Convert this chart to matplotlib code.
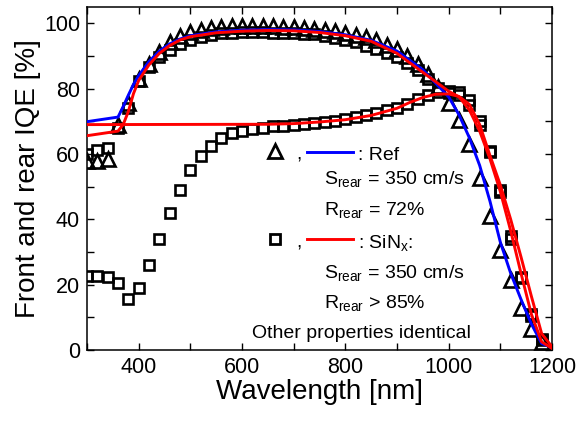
import matplotlib
matplotlib.use("Agg")
import matplotlib.pyplot as plt
from matplotlib.ticker import MultipleLocator

plt.rcParams['font.family'] = ['Liberation Sans', 'DejaVu Sans']
plt.rcParams['mathtext.fontset'] = 'custom'
plt.rcParams['mathtext.rm'] = 'Liberation Sans'
plt.rcParams['mathtext.it'] = 'Liberation Sans'

# ---- data ----
wl = [300, 320, 340, 360, 380, 400, 420, 440, 460, 480, 500, 520, 540, 560, 580,
      600, 620, 640, 660, 680, 700, 720, 740, 760, 780, 800, 820, 840, 860, 880,
      900, 920, 940, 960, 980, 1000, 1020, 1040, 1060, 1080, 1100, 1120, 1140, 1160, 1180]

ref_front_meas = [58, 58, 58.5, 68.8, 75.5, 83, 87.5, 91.3, 94.2, 96.2, 97.4, 98.1, 98.6, 98.9, 99.1,
                  99.2, 99.2, 99.2, 99.1, 99.0, 98.9, 98.7, 98.3, 98.0, 97.6, 97.1, 96.5, 95.7, 94.8, 93.5,
                  92.0, 90.0, 87.5, 84.5, 80.5, 75.5, 70.5, 63.0, 52.5, 41.0, 30.5, 21.5, 13.0, 6.3, 2.3]

sinx_front_meas = [60, 61.3, 61.7, 68, 74, 82.4, 86.5, 89.6, 91.8, 93.7, 95.0, 95.9, 96.5, 96.9, 97.1,
                   97.2, 97.2, 97.2, 97.1, 97.0, 96.9, 96.8, 96.6, 96.2, 95.6, 95.0, 94.2, 93.2, 92.2, 91.0,
                   89.8, 88.0, 85.8, 83.0, 80.2, 78.8, 78.0, 75.0, 69.0, 60.5, 49.0, 35.0, 22.5, 11.0, 3.5]

sinx_rear_meas = [22.7, 22.7, 22.5, 20.5, 15.5, 19, 26, 34, 42, 49, 55, 59.3, 62.4, 64.8, 66.4,
                  67.1, 67.6, 68.1, 68.5, 68.7, 68.9, 69.2, 69.5, 69.8, 70.2, 70.7, 71.3, 72.0, 72.5, 73.5,
                  74.0, 75.3, 76.7, 78.0, 79.0, 79.4, 79.0, 76.5, 70.0, 61.0, 48.5, 34.0, 22.0, 10.5, 3.0]

sim_wl = [300, 360, 370, 380, 390, 400, 420, 440, 460, 480, 500, 550, 600, 650, 700, 750, 800,
          850, 900, 950, 1000, 1020, 1040, 1060, 1080, 1100, 1120, 1140, 1160, 1180, 1200]
ref_front_sim = [69.9, 71.3, 74.5, 78, 81.3, 84, 88.3, 91.5, 93.7, 95.2, 96.2, 97.4, 97.9, 98.1, 98.0,
                 97.5, 96.5, 94.8, 91.5, 85.8, 77.5, 72.0, 65.0, 56.5, 45.5, 33.0, 23.5, 15.5, 8.0, 2.0, 0.7]
sinx_front_sim = [65.6, 67.0, 69.0, 73.0, 78.5, 82.5, 87.3, 90.8, 93.2, 94.9, 95.9, 97.1, 97.6, 97.8, 97.7,
                  97.2, 96.2, 94.5, 90.8, 85.0, 79.2, 77.5, 73.5, 67.0, 58.5, 48.5, 36.5, 23.5, 11.0, 2.5, 0.5]

rear_wl = [300, 650, 700, 750, 800, 850, 900, 925, 950, 975, 1000, 1020, 1040, 1060, 1080, 1100,
           1120, 1140, 1160, 1180, 1200]
sinx_rear_sim = [69.0, 69.1, 69.3, 69.8, 70.5, 71.8, 74.0, 75.8, 77.3, 78.3, 78.4, 77.6, 75.2, 69.0,
                 59.5, 50.5, 40.0, 28.5, 16.5, 5.0, 1.0]

xticks = [400, 600, 800, 1000, 1200]
yticks = [0, 20, 40, 60, 80, 100]

# ---- figure ----
W, H = 582, 421
fig = plt.figure(figsize=(W / 100, H / 100), dpi=100)
L, R, T, B = 87, 552, 7, 350
ax = fig.add_axes([L / W, 1 - B / H, (R - L) / W, (B - T) / H])

BLUE = '#0000ff'
RED = '#ff0000'
lw = 2.1

ax.plot(wl, sinx_rear_meas, linestyle='none', marker='s', ms=7.8, mfc='none', mec='black', mew=1.9, zorder=2)
ax.plot(wl, sinx_front_meas, linestyle='none', marker='s', ms=7.8, mfc='none', mec='black', mew=1.9, zorder=2)
ax.plot(wl, ref_front_meas, linestyle='none', marker='^', ms=10, mfc='none', mec='black', mew=1.9, zorder=2)
ax.plot(sim_wl, ref_front_sim, color=BLUE, lw=lw, zorder=3)
ax.plot(sim_wl, sinx_front_sim, color=RED, lw=lw, zorder=4)
ax.plot(rear_wl, sinx_rear_sim, color=RED, lw=lw, zorder=4)

ax.set_xlim(300, 1200)
ax.set_ylim(0, 105)
ax.set_xticks(xticks)
ax.set_yticks(yticks)
ax.xaxis.set_minor_locator(MultipleLocator(100))
ax.yaxis.set_minor_locator(MultipleLocator(10))
ax.tick_params(which='both', direction='in', top=True, right=True, length=5, width=1.0, labelsize=15.5)
ax.tick_params(axis='x', pad=5)
ax.tick_params(axis='y', pad=5)
for s in ax.spines.values():
    s.set_linewidth(1.1)
ax.set_xlabel('Wavelength [nm]', fontsize=20, labelpad=1)
ax.set_ylabel('Front and rear IQE [%]', fontsize=20, labelpad=2)

# ---- in-plot legend ----
def axp(px, py):
    return ((px - L) / (R - L), (B - py) / (B - T))

fs = 14
tr = ax.transAxes
ax.plot(*axp(275, 151), marker='^', ms=10, mfc='none', mec='black', mew=2.0, transform=tr, clip_on=False)
ax.text(*axp(296, 159), ',', fontsize=fs, va='baseline', ha='left', transform=tr)
x0, y0 = axp(307, 152); x1, _ = axp(353, 152)
ax.plot([x0, x1], [y0, y0], color=BLUE, lw=lw, transform=tr)
ax.text(*axp(358, 160), ': Ref', fontsize=fs, va='baseline', ha='left', transform=tr)
ax.text(*axp(324, 184), r'S$_{\mathrm{rear}}$ = 350 cm/s', fontsize=fs, va='baseline', ha='left', transform=tr)
ax.text(*axp(324, 215), r'R$_{\mathrm{rear}}$ = 72%', fontsize=fs, va='baseline', ha='left', transform=tr)

ax.plot(*axp(275, 239), marker='s', ms=6.5, mfc='none', mec='black', mew=2.0, transform=tr, clip_on=False)
ax.text(*axp(296, 247), ',', fontsize=fs, va='baseline', ha='left', transform=tr)
x0, y0 = axp(307, 239); x1, _ = axp(353, 239)
ax.plot([x0, x1], [y0, y0], color=RED, lw=lw, transform=tr)
ax.text(*axp(358, 248), r': SiN$_{\mathrm{x}}$:', fontsize=fs, va='baseline', ha='left', transform=tr)
ax.text(*axp(324, 278), r'S$_{\mathrm{rear}}$ = 350 cm/s', fontsize=fs, va='baseline', ha='left', transform=tr)
ax.text(*axp(324, 308), r'R$_{\mathrm{rear}}$ > 85%', fontsize=fs, va='baseline', ha='left', transform=tr)
ax.text(*axp(252, 338), 'Other properties identical', fontsize=fs, va='baseline', ha='left', transform=tr)

fig.savefig('out.png', dpi=100)
